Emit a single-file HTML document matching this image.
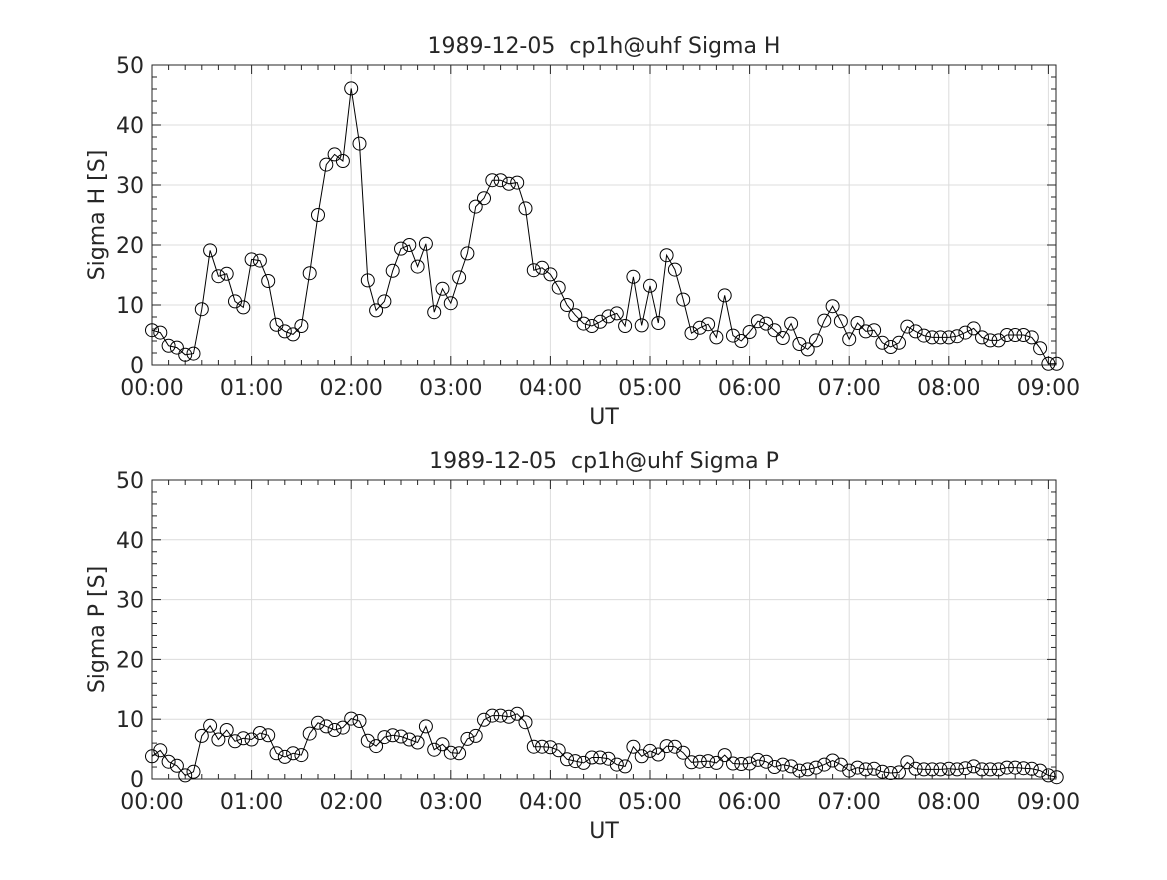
<!DOCTYPE html>
<html><head><meta charset="utf-8"><style>
body{margin:0;background:#fff;}
svg text{font-family:"DejaVu Sans","Liberation Sans",sans-serif;fill:#262626;}
</style></head><body>
<svg id="s" width="1167" height="875" xmlns="http://www.w3.org/2000/svg"></svg>
<script>
const H=[5.8,5.4,3.2,2.9,1.7,1.9,9.3,19.1,14.8,15.2,10.6,9.6,17.6,17.4,14.0,6.7,5.6,5.1,6.5,15.3,25.0,33.4,35.1,34.0,46.1,36.9,14.1,9.1,10.6,15.7,19.4,20.0,16.4,20.2,8.8,12.7,10.3,14.6,18.6,26.4,27.8,30.8,30.8,30.2,30.4,26.1,15.8,16.2,15.1,12.9,10.0,8.3,6.9,6.5,7.2,8.1,8.6,6.5,14.7,6.6,13.2,7.0,18.3,15.9,10.9,5.3,6.2,6.8,4.6,11.6,4.9,4.0,5.5,7.3,6.9,5.8,4.5,6.9,3.5,2.6,4.1,7.4,9.8,7.3,4.3,7.0,5.6,5.8,3.7,3.0,3.7,6.4,5.6,4.9,4.6,4.6,4.6,4.8,5.4,6.1,4.6,4.1,4.1,5.0,5.0,5.0,4.6,2.8,0.2,0.2];
const P=[3.8,4.8,2.9,2.2,0.6,1.2,7.2,8.9,6.6,8.2,6.3,6.8,6.6,7.7,7.3,4.3,3.7,4.3,4.0,7.6,9.4,8.8,8.2,8.6,10.1,9.7,6.4,5.5,7.0,7.3,7.1,6.6,6.1,8.8,4.9,5.8,4.4,4.3,6.7,7.2,9.9,10.6,10.6,10.4,10.9,9.5,5.4,5.4,5.3,4.8,3.3,3.0,2.7,3.6,3.6,3.4,2.4,2.1,5.4,3.8,4.7,4.1,5.5,5.4,4.4,2.8,2.9,3.0,2.7,4.0,2.6,2.5,2.6,3.2,2.9,2.0,2.4,2.1,1.4,1.6,1.9,2.4,3.1,2.4,1.4,1.9,1.6,1.7,1.2,1.0,1.1,2.8,1.7,1.6,1.6,1.6,1.7,1.6,1.8,2.1,1.6,1.6,1.6,1.9,1.9,1.8,1.7,1.4,0.6,0.3];
const X0=152,X1=1056,HR=99.6;
let o='';
function plot(top,bot,data,title,ylab){
  const yv=v=>bot-(bot-top)*v/50;
  for(let h=1;h<=9;h++){const x=X0+h*HR;o+=`<line x1="${x}" y1="${top}" x2="${x}" y2="${bot}" stroke="#dcdcdc" stroke-width="1"/>`;}
  for(let v=10;v<50;v+=10){const y=yv(v);o+=`<line x1="${X0}" y1="${y}" x2="${X1}" y2="${y}" stroke="#dcdcdc" stroke-width="1"/>`;}
  for(let m=0;m<=545;m+=10){const x=X0+m/60*HR;if(x>X1)break;const L=(m%60==0)?9:5;
    o+=`<line x1="${x}" y1="${bot}" x2="${x}" y2="${bot-L}" stroke="#262626"/><line x1="${x}" y1="${top}" x2="${x}" y2="${top+L}" stroke="#262626"/>`;}
  for(let v=0;v<=50;v+=2){const y=yv(v);const L=(v%10==0)?9:5;
    o+=`<line x1="${X0}" y1="${y}" x2="${X0+L}" y2="${y}" stroke="#262626"/><line x1="${X1}" y1="${y}" x2="${X1-L}" y2="${y}" stroke="#262626"/>`;}
  o+=`<rect x="${X0}" y="${top}" width="${X1-X0}" height="${bot-top}" fill="none" stroke="#262626" stroke-width="1"/>`;
  for(let h=0;h<=9;h++){const x=X0+h*HR;o+=`<text x="${x}" y="${bot+30}" font-size="22" text-anchor="middle">0${h}:00</text>`;}
  for(let v=0;v<=50;v+=10){o+=`<text x="${X0-8}" y="${yv(v)+8}" font-size="22" text-anchor="end">${v}</text>`;}
  o+=`<text x="604" y="${bot+59}" font-size="22" text-anchor="middle">UT</text>`;
  o+=`<text x="${(X0+X1)/2}" y="${top-12}" font-size="22" text-anchor="middle">${title}</text>`;
  o+=`<text transform="translate(104,${(top+bot)/2}) rotate(-90)" font-size="22" text-anchor="middle">${ylab}</text>`;
  let pts=data.map((v,i)=>`${(X0+i*HR/12).toFixed(1)},${yv(v).toFixed(1)}`);
  o+=`<polyline points="${pts.join(' ')}" fill="none" stroke="#000" stroke-width="1"/>`;
  data.forEach((v,i)=>{o+=`<circle cx="${(X0+i*HR/12).toFixed(1)}" cy="${yv(v).toFixed(1)}" r="6.5" fill="none" stroke="#000" stroke-width="1"/>`;});
}
plot(65,365,H,"1989-12-05&#160;&#160;cp1h@uhf Sigma H","Sigma H [S]");
plot(480,779,P,"1989-12-05&#160;&#160;cp1h@uhf Sigma P","Sigma P [S]");
document.getElementById('s').innerHTML=o;
</script>
</body></html>
